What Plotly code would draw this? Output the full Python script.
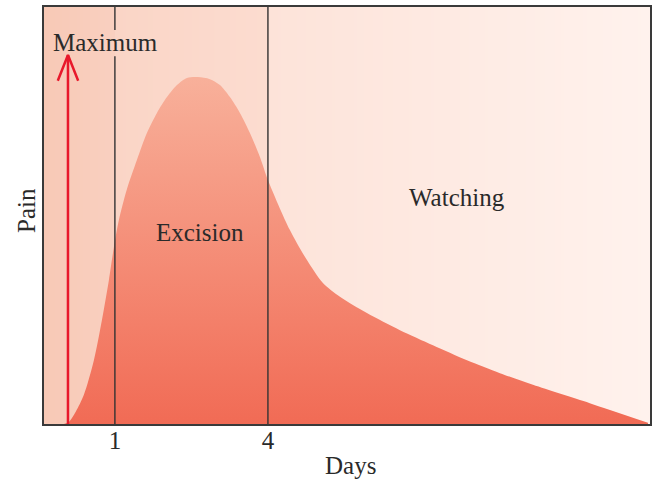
import numpy as np
import plotly.graph_objects as go

# ---- data ----
days = [0.0, 0.098, 0.235, 0.392, 0.588, 0.745, 0.882, 0.980, 1.078, 1.235, 1.431,
        1.627, 1.824, 2.020, 2.216, 2.412, 2.627, 2.863, 3.059, 3.255, 3.451, 3.647,
        3.843, 4.0, 4.431, 4.765, 5.078, 5.412, 5.941, 6.588, 7.235, 7.902, 8.549,
        9.196, 10.31, 11.45]
pain = [0.0, 0.005, 0.03, 0.070, 0.153, 0.249, 0.345, 0.424, 0.489, 0.563, 0.633,
        0.698, 0.746, 0.784, 0.813, 0.830, 0.832, 0.827, 0.813, 0.784, 0.746, 0.698,
        0.640, 0.585, 0.465, 0.393, 0.338, 0.305, 0.266, 0.225, 0.189, 0.153, 0.122,
        0.094, 0.050, 0.003]
boundaries = [1, 4]
tick_labels = ["1", "4"]
arrow_x = 0.08
arrow_top = 0.885
labels = [("Maximum", 0.81, 0.914), ("Excision", 2.67, 0.46), ("Watching", 7.71, 0.542)]
x_title = "Days"
y_title = "Pain"

x_range = [-0.39, 11.49]
FONT = "Liberation Serif"
TXT = "#2a2a2a"

fig = go.Figure()

# background gradient (horizontal)
bx = np.linspace(x_range[0], x_range[1], 800)
p1 = (1 - x_range[0]) / (x_range[1] - x_range[0])
p4 = (4 - x_range[0]) / (x_range[1] - x_range[0])
bg_scale = [[0, "#F8C9B6"], [p1, "#F9D0C0"], [p1 + 1e-4, "#FAD5C6"],
            [p4, "#FCDCD0"], [p4 + 1e-4, "#FDE3D9"], [1, "#FFF2ED"]]
fig.add_trace(go.Heatmap(x=bx, y=[0, 1], z=[bx, bx], colorscale=bg_scale,
                         showscale=False, hoverinfo="skip", zsmooth="best"))

# pain curve with vertical gradient
fig.add_trace(go.Scatter(x=days, y=pain, mode="lines",
                         line=dict(width=0, shape="spline", smoothing=0.8),
                         fill="tozeroy",
                         fillgradient=dict(type="vertical", start=0, stop=0.84,
                                           colorscale=[[0, "#F16B55"], [1, "#F8B19B"]]),
                         hoverinfo="skip", showlegend=False))

# vertical boundary lines (the first one is interrupted behind the "Maximum" label)
gap = (0.882, 0.945)
for i, b in enumerate(boundaries):
    segs = [(0, gap[0]), (gap[1], 1)] if i == 0 else [(0, 1)]
    for y0, y1 in segs:
        fig.add_shape(type="line", x0=b, x1=b, y0=y0, y1=y1, xref="x", yref="paper",
                      line=dict(color="#333333", width=1.4), layer="above")

# red arrow
red = "#E8192B"
fig.add_trace(go.Scatter(x=[arrow_x, arrow_x], y=[0, arrow_top], mode="lines",
                         line=dict(color=red, width=2.5), hoverinfo="skip", showlegend=False))
fig.add_trace(go.Scatter(x=[arrow_x - 0.2, arrow_x, arrow_x + 0.2],
                         y=[arrow_top - 0.062, arrow_top, arrow_top - 0.062], mode="lines",
                         line=dict(color=red, width=2.5), hoverinfo="skip", showlegend=False))

for txt, lx, ly in labels:
    fig.add_annotation(x=lx, y=ly, xref="x", yref="y", text=txt, showarrow=False,
                       font=dict(family=FONT, size=25, color=TXT))

fig.add_annotation(x=0.505, y=-0.1007, xref="paper", yref="paper", text=x_title,
                   showarrow=False, xanchor="center", yanchor="middle",
                   font=dict(family=FONT, size=25, color=TXT))
fig.add_annotation(x=-0.028, y=0.511, xref="paper", yref="paper", text=y_title,
                   showarrow=False, xanchor="center", yanchor="middle", textangle=-90,
                   font=dict(family=FONT, size=25, color=TXT))

fig.update_layout(
    width=653, height=480,
    margin=dict(l=44, r=3, t=7, b=56),
    paper_bgcolor="white", plot_bgcolor="white",
    showlegend=False,
    font=dict(family=FONT, size=25, color=TXT),
)
fig.update_xaxes(range=x_range, tickvals=boundaries, ticktext=tick_labels, ticks="",
                 showgrid=False, zeroline=False, showline=True, mirror=True,
                 linecolor="#3a3a3a", linewidth=1.6, automargin=False,
                 ticklabelstandoff=-7, tickfont=dict(size=25))
fig.update_yaxes(range=[0, 1], showticklabels=False, ticks="", showgrid=False,
                 zeroline=False, showline=True, mirror=True,
                 linecolor="#3a3a3a", linewidth=1.6, automargin=False)

fig.write_html("out.html", config={"displayModeBar": False},
               post_script="document.body.style.margin='0px';document.body.style.overflow='hidden';")
